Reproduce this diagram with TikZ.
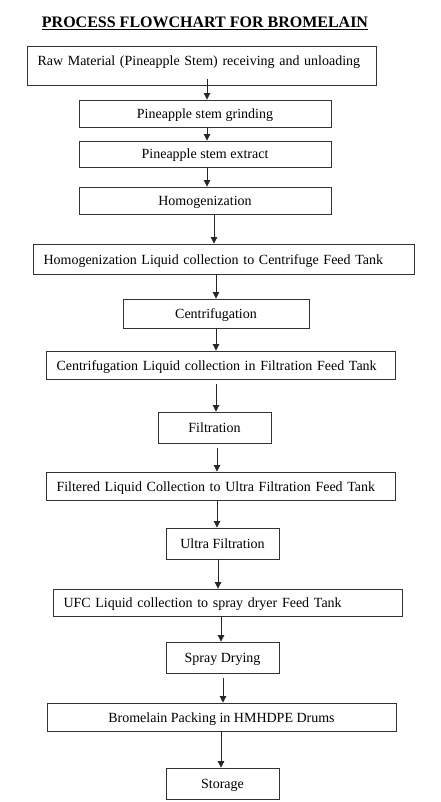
\documentclass[tikz,border=0pt]{standalone}
\usepackage{fontspec}
\setmainfont{Liberation Serif}
\usetikzlibrary{arrows.meta}
\begin{document}
\begin{tikzpicture}[x=1pt,y=-1pt,
  stepbox/.style={rectangle,draw=black!80,line width=0.8pt,font=\fontsize{14}{16}\selectfont,inner sep=0pt,text height=12pt,text depth=2pt},
  longbox/.style={stepbox,align=left,inner xsep=10.5pt,inner ysep=0pt},
  flow/.style={-{Triangle[length=6.5pt,width=6.5pt]},draw=black!85,line width=0.7pt}]
\useasboundingbox (0,0) rectangle (441,802);
\node[font=\fontsize{16}{18}\selectfont\bfseries] (T) at (205,23) {\underline{PROCESS FLOWCHART FOR BROMELAIN}};
\node[longbox,text width=328pt,minimum height=39pt,text depth=12pt] (b1) at (201.5,65.5) {Raw Material (Pineapple Stem) receiving and unloading};
\node[stepbox,minimum width=252pt,minimum height=27pt] (b2) at (205,113.5) {Pineapple stem grinding};
\node[stepbox,minimum width=252pt,minimum height=26pt] (b3) at (205,154) {Pineapple stem extract};
\node[stepbox,minimum width=252pt,minimum height=27pt] (b4) at (205,200.5) {Homogenization};
\node[longbox,text width=360pt,minimum height=30pt] (b5) at (223.5,259) {Homogenization Liquid collection to Centrifuge Feed Tank};
\node[stepbox,minimum width=186pt,minimum height=29pt] (b6) at (216,313.5) {Centrifugation};
\node[longbox,text width=328pt,minimum height=28pt] (b7) at (220.5,365) {Centrifugation Liquid collection in Filtration Feed Tank};
\node[stepbox,minimum width=113pt,minimum height=31pt] (b8) at (214.5,427.5) {Filtration};
\node[longbox,text width=328pt,minimum height=28pt] (b9) at (220.5,486) {Filtered Liquid Collection to Ultra Filtration Feed Tank};
\node[stepbox,minimum width=113pt,minimum height=31pt] (b10) at (222.5,543.5) {Ultra Filtration};
\node[longbox,text width=328pt,minimum height=27pt] (b11) at (227.5,602.5) {UFC Liquid collection to spray dryer Feed Tank};
\node[stepbox,minimum width=113pt,minimum height=31pt] (b12) at (222.5,657.5) {Spray Drying};
\node[stepbox,minimum width=349pt,minimum height=28pt] (b13) at (221.5,717) {Bromelain Packing in HMHDPE Drums};
\node[stepbox,minimum width=113pt,minimum height=31pt] (b14) at (222.5,783.5) {Storage};
\draw[flow,shorten <=-6pt] (b1.south -| 207,0) to (b2.north -| 207,0);
\draw[flow] (b2.south -| 207,0) to (b3.north -| 207,0);
\draw[flow] (b3.south -| 207,0) to (b4.north -| 207,0);
\draw[flow] (b4.south -| 214,0) to (b5.north -| 214,0);
\draw[flow] (b5.south -| 216,0) to (b6.north -| 216,0);
\draw[flow] (b6.south -| 216,0) to (b7.north -| 216,0);
\draw[flow,shorten <=5pt] (b7.south -| 216,0) to (b8.north -| 216,0);
\draw[flow,shorten <=5pt] (b8.south -| 217,0) to (b9.north -| 217,0);
\draw[flow] (b9.south -| 217,0) to (b10.north -| 217,0);
\draw[flow] (b10.south -| 218,0) to (b11.north -| 218,0);
\draw[flow] (b11.south -| 221,0) to (b12.north -| 221,0);
\draw[flow,shorten <=5pt] (b12.south -| 223,0) to (b13.north -| 223,0);
\draw[flow] (b13.south -| 221,0) to (b14.north -| 221,0);
\end{tikzpicture}
\end{document}
